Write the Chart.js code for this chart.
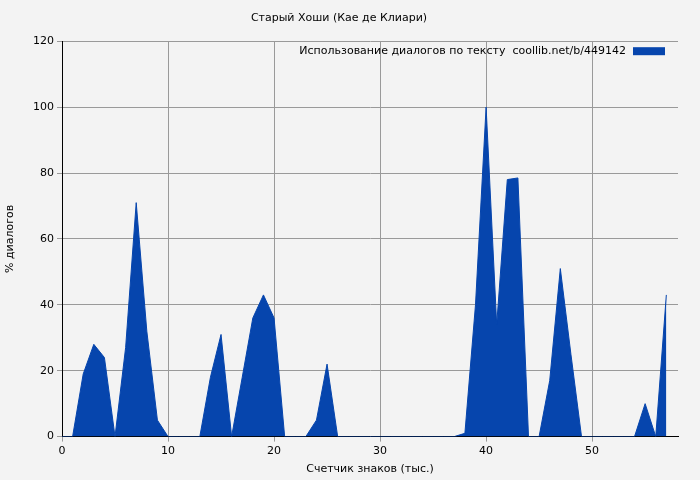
<!DOCTYPE html>
<html>
<head>
<meta charset="utf-8">
<script src="https://cdn.jsdelivr.net/npm/chart.js@4/dist/chart.umd.min.js"></script>
<style>
  html, body { margin: 0; padding: 0; background: #f3f3f3; }
  #wrap { width: 700px; height: 480px; }
</style>
</head>
<body>
<div id="wrap"><canvas id="c" width="700" height="480"></canvas></div>
<script>
const chartTitle = 'Старый Хоши (Кае де Клиари)';
const seriesLabel = 'Использование диалогов по тексту  coollib.net/b/449142';
const xValues = [0,1,2,3,4,5,6,7,8,9,10,11,12,13,14,15,16,17,18,19,20,21,22,23,24,25,26,27,28,29,30,31,32,33,34,35,36,37,38,39,40,41,42,43,44,45,46,47,48,49,50,51,52,53,54,55,56,57];
const dialogPct = [0,0,19,28,24,0,27,71,32,5,0,0,0,0,18,31,0,18,36,43,36,0,0,0,5,22,0,0,0,0,0,0,0,0,0,0,0,0,1,40,100,34,78,78.5,0,0,17,51,25,0,0,0,0,0,0,10,0,43];
const yTicks = [0,20,40,60,80,100,120];

const points = xValues.map((x, i) => ({ x: x, y: dialogPct[i] }));

const insideLegend = {
  id: 'insideLegend',
  afterDraw(chart) {
    const ctx = chart.ctx, a = chart.chartArea;
    ctx.save();
    ctx.font = '11px "DejaVu Sans"';
    ctx.fillStyle = '#000';
    ctx.textAlign = 'right';
    ctx.textBaseline = 'middle';
    ctx.fillText(chart.data.datasets[0].label, a.right - 52, a.top + 10);
    ctx.fillStyle = '#0645ad';
    ctx.fillRect(a.right - 45, a.top + 6, 32, 8);
    ctx.restore();
  }
};

new Chart(document.getElementById('c'), {
  type: 'line',
  data: {
    datasets: [{
      label: seriesLabel,
      data: points,
      borderColor: '#0645ad',
      backgroundColor: '#0645ad',
      borderWidth: 1,
      pointRadius: 0,
      tension: 0,
      fill: 'origin'
    }]
  },
  options: {
    responsive: false,
    animation: false,
    layout: { padding: { left: 0, right: 22, top: 0, bottom: 0 } },
    plugins: {
      legend: { display: false },
      tooltip: { enabled: false },
      title: {
        display: true, text: chartTitle, color: '#000',
        font: { family: 'DejaVu Sans', size: 11, weight: 'normal' },
        padding: { top: 12, bottom: 16 }
      }
    },
    scales: {
      x: {
        type: 'linear', min: 0, max: 58.1,
        afterBuildTicks: s => { s.ticks = [0,10,20,30,40,50].map(v => ({ value: v })); },
        grid: { color: '#999', borderDash: [3, 3], drawTicks: true, tickLength: 5 },
        border: { color: '#000', width: 1 },
        ticks: { color: '#000', font: { family: 'DejaVu Sans', size: 11 }, maxRotation: 0 },
        title: { display: true, text: 'Счетчик знаков (тыс.)', color: '#000', font: { family: 'DejaVu Sans', size: 11 }, padding: { top: 2 } }
      },
      y: {
        min: 0, max: 120,
        afterBuildTicks: s => { s.ticks = yTicks.map(v => ({ value: v })); },
        afterFit: s => { s.width = 62; },
        grid: { color: '#999', borderDash: [3, 3], tickLength: 5 },
        border: { color: '#000', width: 1 },
        ticks: { color: '#000', font: { family: 'DejaVu Sans', size: 11 } },
        title: { display: true, text: '% диалогов', color: '#000', font: { family: 'DejaVu Sans', size: 11 }, padding: { bottom: 4 } }
      }
    }
  },
  plugins: [insideLegend]
});
</script>
</body>
</html>
